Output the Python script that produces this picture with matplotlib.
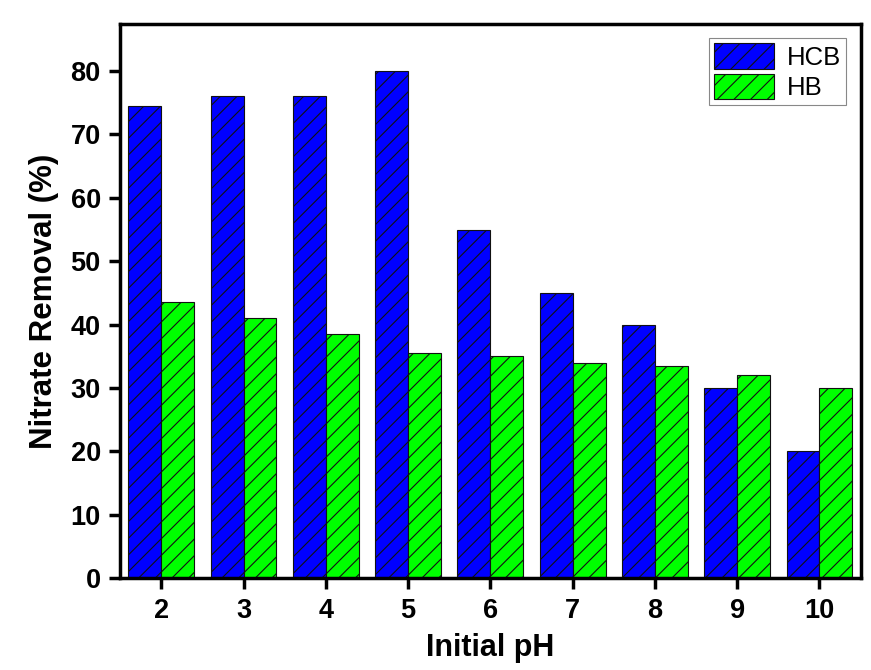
import matplotlib
matplotlib.use("Agg")
import matplotlib.pyplot as plt
import numpy as np

plt.rcParams['font.family'] = ['Liberation Sans', 'DejaVu Sans']
plt.rcParams['hatch.linewidth'] = 0.8

ph = [2, 3, 4, 5, 6, 7, 8, 9, 10]
hcb = [74.5, 76, 76, 80, 55, 45, 40, 30, 20]
hb = [43.5, 41, 38.5, 35.5, 35, 34, 33.5, 32, 30]

fig = plt.figure(figsize=(8.71, 6.70), dpi=100)
ax = fig.add_axes([0.138, 0.137, 0.850, 0.827])

x = np.array(ph)
w = 0.4
ax.bar(x - w/2, hcb, w, color='#0000ff', edgecolor='#111111', linewidth=0.8, hatch='//', label='HCB')
ax.bar(x + w/2, hb, w, color='#00ff00', edgecolor='#111111', linewidth=0.8, hatch='//', label='HB')

ax.set_xlim(1.5, 10.5)
ax.set_ylim(0, 87.4)
ax.set_xticks(ph)
ax.set_yticks(range(0, 81, 10))
for s in ax.spines.values():
    s.set_linewidth(2.5)
ax.tick_params(direction='out', length=8, width=2.5, labelsize=19.5, pad=6)
for lab in ax.get_xticklabels() + ax.get_yticklabels():
    lab.set_fontweight('bold')

ax.set_xlabel('Initial pH', fontsize=22, fontweight='bold', labelpad=7)
ax.set_ylabel('Nitrate Removal (%)', fontsize=22.5, fontweight='bold', labelpad=8)

leg = ax.legend(loc='upper right', fontsize=18.5, fancybox=False, framealpha=1,
                edgecolor='#888888', handlelength=2.35, handleheight=1.15,
                borderaxespad=0.55, handletextpad=0.5, labelspacing=0.15,
                borderpad=0.2)
leg.get_frame().set_linewidth(0.8)

fig.savefig('out.png', dpi=100)
